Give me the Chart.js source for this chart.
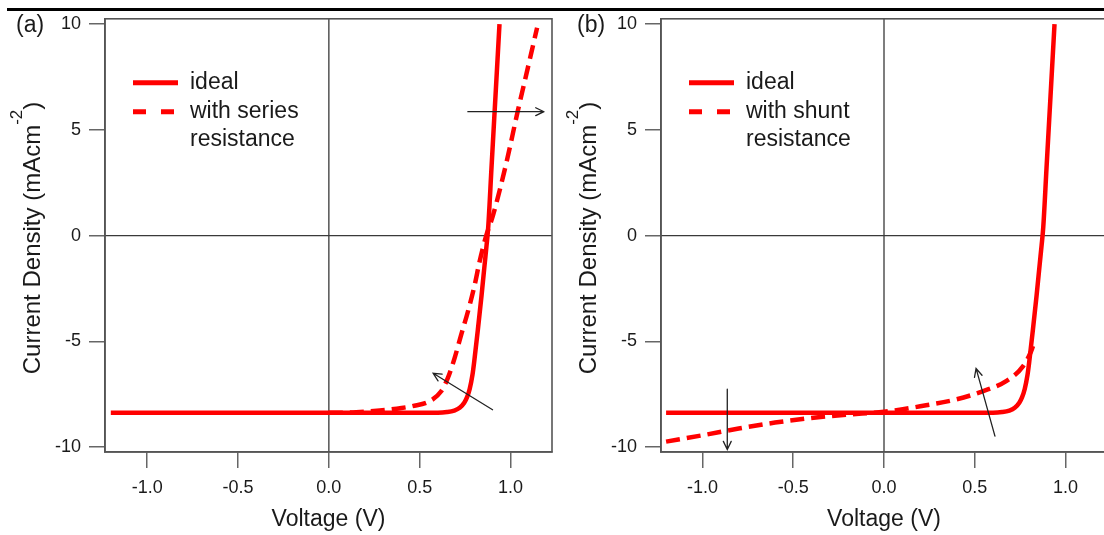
<!DOCTYPE html>
<html><head><meta charset="utf-8">
<script src="https://cdn.jsdelivr.net/npm/chart.js@4.4.1/dist/chart.umd.min.js"></script>
<style>
html,body{margin:0;padding:0;background:#fff;width:1104px;height:535px;overflow:hidden;position:relative;}
#topline{position:absolute;left:7px;top:8px;width:1097px;height:3px;background:#000;}
.wrap{position:absolute;top:0;height:535px;}
#wa{left:0;width:556px;}
#wb{left:552px;width:559px;}
canvas{display:block;}
</style></head><body>
<div id="topline"></div>
<div class="wrap" id="wa"><canvas id="ca" width="556" height="535"></canvas></div>
<div class="wrap" id="wb"><canvas id="cb" width="559" height="535"></canvas></div>
<script>
// ---- data ----
const idealV = [-1.2, 0.0, 0.6, 0.65, 0.69, 0.72, 0.745, 0.76, 0.775, 0.79, 0.80, 0.82, 0.84, 0.858, 0.868, 0.877, 0.895, 0.917, 0.939];
const idealJ = [-8.38, -8.38, -8.37, -8.34, -8.27, -8.14, -7.9, -7.65, -7.25, -6.6, -5.95, -4.45, -2.85, -1.3, -0.45, 0.4, 3.2, 6.6, 10.0];

const seriesV = [0.0, 0.15, 0.28, 0.40, 0.46, 0.555, 0.618, 0.655, 0.692, 0.728, 0.765, 0.802, 0.829, 0.866, 0.902, 0.976, 1.04, 1.095, 1.146];
const seriesJ = [-8.38, -8.35, -8.27, -8.15, -8.06, -7.83, -7.36, -6.73, -5.79, -4.69, -3.6, -2.35, -1.25, 0.0, 0.92, 3.41, 5.9, 7.93, 9.83];

const shuntV = [-1.2, -1.0, -0.8, -0.6, -0.4, -0.2, 0.0, 0.2, 0.4, 0.55, 0.675, 0.765, 0.81, 0.825];
const shuntJ = [-9.74, -9.44, -9.12, -8.84, -8.62, -8.46, -8.33, -8.07, -7.74, -7.34, -6.87, -6.18, -5.47, -5.1];

const xTicks = [-1.0, -0.5, 0.0, 0.5, 1.0];
const yTicks = [-10, -5, 0, 5, 10];

const legendA = ['ideal', 'with series', 'resistance'];
const legendB = ['ideal', 'with shunt', 'resistance'];

// arrows in data coordinates: [x1, y1, x2(head), y2(head)]
const arrowsA = [[0.765, 5.86, 1.183, 5.86], [0.901, -8.23, 0.574, -6.51]];
const arrowsB = [[-0.863, -7.26, -0.863, -10.11], [0.611, -9.48, 0.507, -6.28]];

const xTitle = 'Voltage (V)';
const yTitleMain = 'Current Density (mAcm';
const yTitleSup = '-2';
const yTitleEnd = ')';

// ---- drawing ----
const FAM = '"Liberation Sans", Arial, sans-serif';
const RED = '#ff0000';
const TXT = '#1a1a1a';

function pts(xs, ys) { return xs.map((v, i) => ({x: v, y: ys[i]})); }

function drawArrow(ctx, x1, y1, x2, y2) {
  const ang = Math.atan2(y2 - y1, x2 - x1), L = 9, h = 0.45;
  ctx.beginPath();
  ctx.moveTo(x1, y1); ctx.lineTo(x2, y2);
  ctx.moveTo(x2 - L * Math.cos(ang - h), y2 - L * Math.sin(ang - h));
  ctx.lineTo(x2, y2);
  ctx.lineTo(x2 - L * Math.cos(ang + h), y2 - L * Math.sin(ang + h));
  ctx.stroke();
}

function makePlugin(cfg) {
  return {
    id: 'deco',
    beforeDatasetsDraw(chart) {
      const {ctx, chartArea: a, scales: {x, y}} = chart;
      ctx.save();
      ctx.strokeStyle = '#3a3a3a'; ctx.lineWidth = 1.3;
      const x0 = x.getPixelForValue(0), y0 = y.getPixelForValue(0);
      ctx.beginPath();
      ctx.moveTo(x0, a.top); ctx.lineTo(x0, a.bottom);
      ctx.moveTo(a.left, y0); ctx.lineTo(a.right, y0);
      ctx.stroke();
      ctx.restore();
    },
    afterDatasetsDraw(chart) {
      const {ctx, chartArea: a, scales: {x, y}} = chart;
      ctx.save();
      // arrows
      ctx.strokeStyle = '#222'; ctx.lineWidth = 1.3; ctx.lineCap = 'round';
      cfg.arrows.forEach(r => drawArrow(ctx, x.getPixelForValue(r[0]), y.getPixelForValue(r[1]),
                                             x.getPixelForValue(r[2]), y.getPixelForValue(r[3])));
      // border box
      ctx.lineCap = 'butt';
      ctx.strokeStyle = '#555'; ctx.lineWidth = 1.6;
      ctx.strokeRect(a.left, a.top, a.right - a.left, a.bottom - a.top);
      // legend
      const ds = chart.data.datasets;
      const sx0 = a.left + 28, sx1 = a.left + 73, tx = a.left + 85;
      const rows = [a.top + 64, a.top + 93, a.top + 121];
      ctx.strokeStyle = ds[0].borderColor; ctx.lineWidth = 5;
      ctx.beginPath(); ctx.moveTo(sx0, rows[0]); ctx.lineTo(sx1, rows[0]); ctx.stroke();
      ctx.setLineDash([13, 15]);
      ctx.strokeStyle = ds[1].borderColor;
      ctx.beginPath(); ctx.moveTo(sx0, rows[1]); ctx.lineTo(sx0 + 42, rows[1]); ctx.stroke();
      ctx.setLineDash([]);
      ctx.fillStyle = TXT; ctx.font = '23px ' + FAM;
      ctx.textAlign = 'left'; ctx.textBaseline = 'middle';
      cfg.legend.forEach((t, i) => ctx.fillText(t, tx, rows[i]));
      ctx.restore();
    },
    afterDraw(chart) {
      const {ctx, chartArea: a} = chart;
      ctx.save();
      // panel label
      ctx.fillStyle = TXT; ctx.font = '23px ' + FAM;
      ctx.textAlign = 'left'; ctx.textBaseline = 'middle';
      ctx.fillText(cfg.label, cfg.labelX, 26);
      // y title with superscript
      const bx = a.left - 65, cy = 238;
      ctx.font = '24px ' + FAM;
      const w1 = ctx.measureText(yTitleMain).width, w3 = ctx.measureText(yTitleEnd).width;
      ctx.font = '17px ' + FAM;
      const w2 = ctx.measureText(yTitleSup).width;
      const total = w1 + w2 + w3;
      ctx.translate(bx, cy); ctx.rotate(-Math.PI / 2);
      ctx.textBaseline = 'alphabetic';
      let sx = -total / 2;
      ctx.font = '24px ' + FAM; ctx.fillText(yTitleMain, sx, 0); sx += w1;
      ctx.font = '17px ' + FAM; ctx.fillText(yTitleSup, sx, -18); sx += w2;
      ctx.font = '24px ' + FAM; ctx.fillText(yTitleEnd, sx, 0);
      ctx.restore();
    }
  };
}

function makeChart(id, cfg) {
  return new Chart(document.getElementById(id), {
    type: 'line',
    data: {datasets: [
      {data: pts(idealV, idealJ), borderColor: RED, borderWidth: 4.5, pointRadius: 0,
       cubicInterpolationMode: 'monotone', fill: false},
      {data: pts(cfg.dashV, cfg.dashJ), borderColor: RED, borderWidth: 4.5, borderDash: [14, 7],
       pointRadius: 0, cubicInterpolationMode: 'monotone', fill: false}
    ]},
    options: {
      responsive: false, animation: false, devicePixelRatio: 1,
      layout: {padding: {left: 0, right: 4, top: 14, bottom: 0}},
      plugins: {legend: {display: false}, tooltip: {enabled: false}},
      scales: {
        x: {
          type: 'linear', min: cfg.xmin, max: cfg.xmax,
          afterBuildTicks: s => { s.ticks = xTicks.map(v => ({value: v})); },
          afterFit: s => { s.height = 83; },
          ticks: {font: {family: FAM, size: 18}, color: TXT, padding: 9, maxRotation: 0, autoSkip: false,
                  callback: v => Number(v).toFixed(1)},
          grid: {drawOnChartArea: false, drawTicks: true, tickLength: 16, color: '#666', lineWidth: 1.5},
          border: {display: true, color: '#555', width: 1.6},
          title: {display: true, text: xTitle, font: {family: FAM, size: 23}, color: TXT,
                  padding: {top: 0, bottom: 2}}
        },
        y: {
          type: 'linear', min: -10.23, max: 10.25,
          afterBuildTicks: s => { s.ticks = yTicks.map(v => ({value: v})); },
          afterFit: s => { s.width = cfg.left; },
          ticks: {font: {family: FAM, size: 18}, color: TXT, padding: 8, autoSkip: false,
                  callback: v => String(v)},
          grid: {drawOnChartArea: false, drawTicks: true, tickLength: 16, color: '#666', lineWidth: 1.5},
          border: {display: true, color: '#555', width: 1.6}
        }
      }
    },
    plugins: [makePlugin(cfg)]
  });
}

makeChart('ca', {left: 105, xmin: -1.232, xmax: 1.228, dashV: seriesV, dashJ: seriesJ,
                 arrows: arrowsA, legend: legendA, label: '(a)', labelX: 16});
makeChart('cb', {left: 109, xmin: -1.228, xmax: 1.228, dashV: shuntV, dashJ: shuntJ,
                 arrows: arrowsB, legend: legendB, label: '(b)', labelX: 25});
</script>
</body></html>
